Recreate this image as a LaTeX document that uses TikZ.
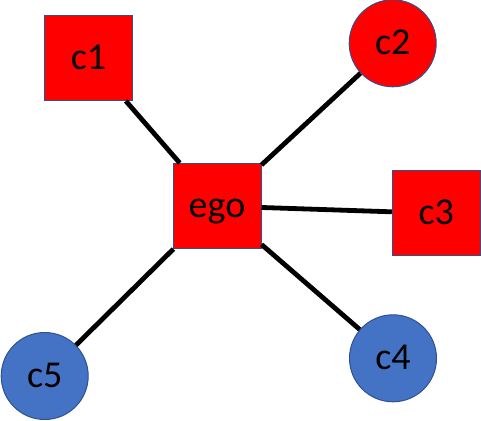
\documentclass[tikz,border=0pt]{standalone}
\usepackage{xcolor}
\usepackage{fontspec}
\setmainfont{Carlito}
\usetikzlibrary{positioning}
\definecolor{egoRed}{HTML}{FF0000}
\definecolor{egoBlue}{HTML}{4472C4}
\definecolor{egoEdge}{HTML}{2F528F}

\begin{document}
\begin{tikzpicture}[x=1pt, y=-1pt,
  sqNode/.style={draw=egoEdge, line width=1pt, fill=egoRed, rectangle,
                 minimum width=88pt, minimum height=85pt, inner sep=0pt,
                 text height=33.5pt, text depth=11.5pt,
                 font=\fontsize{38}{42}\selectfont},
  ciNode/.style={draw=egoEdge, line width=1pt, circle,
                 minimum size=87pt, inner sep=0pt,
                 text height=33.5pt, text depth=11.5pt,
                 font=\fontsize{38}{42}\selectfont},
  tie/.style={line width=4.8pt, black}]
  \useasboundingbox (0,0) rectangle (481,420);
  % nodes
  \node[sqNode] (ego) at (217,206) {ego};
  \node[sqNode] (c1) at (88.5,58) {c1};
  \node[ciNode, fill=egoRed] (c2) at (392.7,43.3) {c2};
  \node[sqNode] (c3) at (436.3,213.3) {c3};
  \node[ciNode, fill=egoBlue] (c4) at (393,358.3) {c4};
  \node[ciNode, fill=egoBlue] (c5) at (44.7,376) {c5};
  % ties
  \draw[tie] (c1) -- (ego);
  \draw[tie] (c2) -- (ego);
  \draw[tie] (ego) -- (c3);
  \draw[tie] (ego) -- (c4);
  \draw[tie] (ego) -- (c5);
\end{tikzpicture}
\end{document}
